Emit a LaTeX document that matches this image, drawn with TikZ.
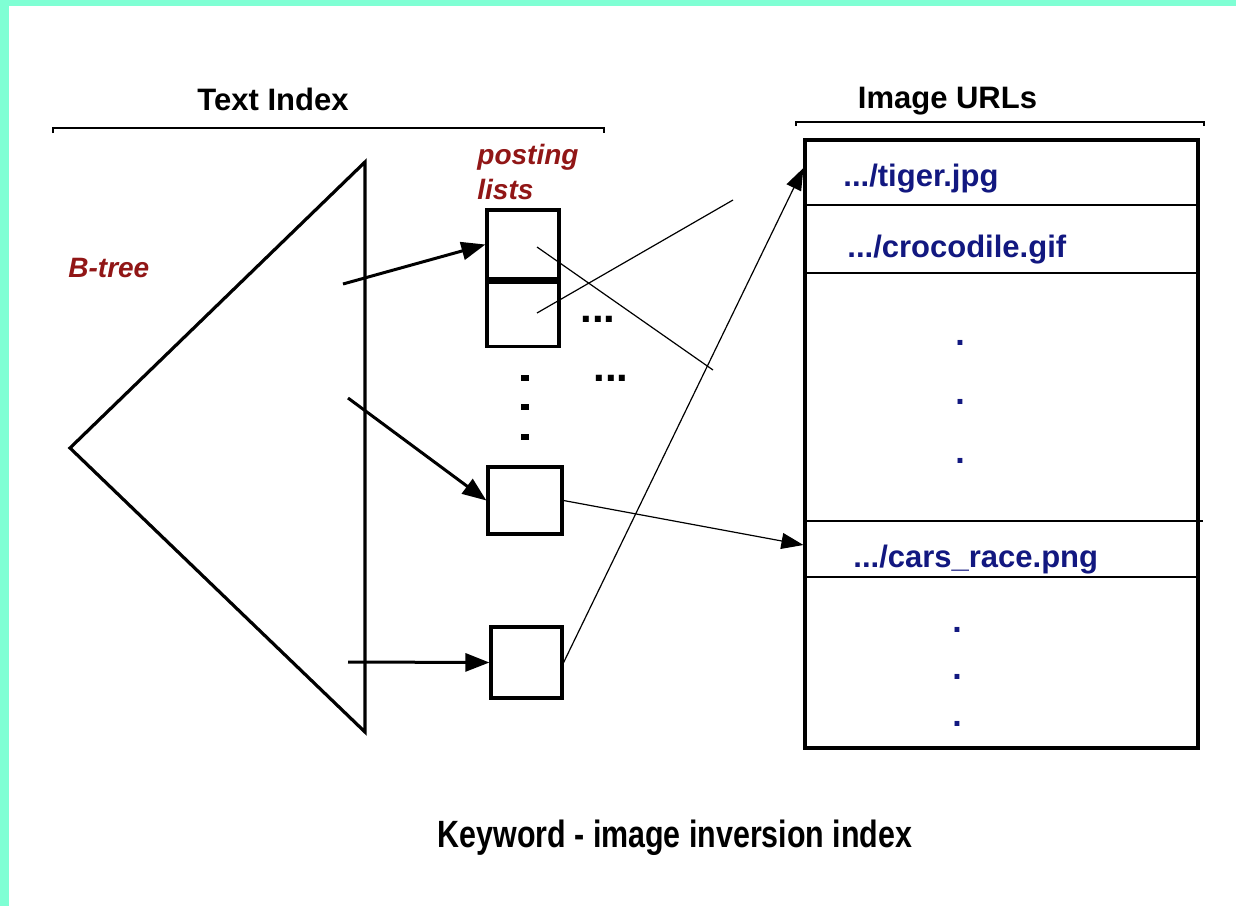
\documentclass[tikz,border=0pt]{standalone}
\usepackage{fontspec}
\usepackage{graphicx}
\setmainfont{Liberation Sans}
\usetikzlibrary{arrows.meta}
\definecolor{aqua}{RGB}{127,255,212}
\definecolor{treered}{RGB}{145,22,22}
\definecolor{urlblue}{RGB}{18,24,128}
\tikzset{
  plbox/.style={draw, line width=1.6pt, inner sep=0pt},
  heavy/.style={line width=1.6pt},
  bigarrow/.style={line width=1.5pt, -{Triangle[length=12pt,width=9pt]}},
  thinarrow/.style={line width=0.6pt, -{Triangle[length=11pt,width=8pt]}},
  pointer/.style={line width=0.6pt},
  rowrule/.style={line width=0.75pt},
  bracket/.style={line width=1pt},
  heading/.style={font=\fontsize{15.5}{18}\selectfont\bfseries, inner sep=0pt},
  redlabel/.style={text=treered, font=\fontsize{14}{17.5}\selectfont\bfseries\itshape, inner sep=0pt},
  urltext/.style={text=urlblue, font=\fontsize{15.5}{18}\selectfont\bfseries, anchor=base west, inner sep=0pt},
  dots/.style={font=\fontsize{21}{21}\selectfont\bfseries, inner sep=0pt},
  bluedots/.style={text=urlblue, align=center, inner sep=0pt},
}
\begin{document}
\begin{tikzpicture}[x=0.5pt, y=-0.5pt]
    %\draw[lightgray] (0,0) grid[step=100] (1236,906);
    \fill[white] (0,0) rectangle (1236,906);
    \useasboundingbox (0,0) rectangle (1236,906);
    \fill[aqua] (0,0) rectangle (1236,6);
    \fill[aqua] (0,0) rectangle (9,906);

    % text index
    \node[heading, anchor=base] (textidx) at (273,110) {Text Index};
    \draw[bracket] (53,133) -- (53,128) -- (604,128) -- (604,133);
    \draw[heavy] (365,162) -- (70,448) -- (365,732) -- cycle;
    \node[redlabel, anchor=base west] (btree) at (68,277) {B-tree};
    \node[redlabel, align=left, anchor=north west] (posting) at (477,144) {posting\\lists};

    \node[plbox, minimum width=36pt, minimum height=34.5pt] (pl1) at (523,244.5) {};
    \node[plbox, minimum width=36pt, minimum height=32pt, anchor=north] (pl2) at (pl1.south) {};
    \node[plbox, minimum width=37pt, minimum height=33.5pt] (pl3) at (525,500.5) {};
    \node[plbox, minimum width=35.5pt, minimum height=35.5pt] (pl4) at (526.5,662.5) {};

    \node[dots] (more1) at (598,319) {...};
    \node[dots] (more2) at (611,378) {...};
    \foreach \y in {378,407,437}
        \fill (521,\y-3) rectangle +(8,6);

    \coordinate (k1) at (343,284);
    \coordinate (k2) at (348,398);
    \coordinate (k3) at (348,662);
    \draw[bigarrow] (k1) -- (pl1.west);
    \draw[bigarrow] (k2) -- (pl3.west);
    \draw[bigarrow] (k3) -- (pl4.west);

    \coordinate (p1) at (537,247);
    \coordinate (p1e) at (713,370);
    \coordinate (p2) at (537,313);
    \coordinate (p2e) at (733,200);
    \draw[pointer] (p1) -- (p1e);
    \draw[pointer] (p2) -- (p2e);

    % image urls
    \node[heading, anchor=base] (imgurl) at (947.5,108) {Image URLs};
    \draw[bracket] (796,126) -- (796,122) -- (1204,122) -- (1204,126);
    \node[draw, line width=1.6pt, minimum width=196.5pt, minimum height=304pt, inner sep=0pt] (urls) at (1001.5,444) {};
    \draw[rowrule] (urls.west |- 0,205) -- (urls.east |- 0,205);
    \draw[rowrule] (urls.west |- 0,273) -- (urls.east |- 0,273);
    \draw[rowrule] (urls.west |- 0,521) -- (1203,521);
    \draw[rowrule] (urls.west |- 0,577) -- (urls.east |- 0,577);

    \node[urltext] (tiger) at (843,186) {.../tiger.jpg};
    \node[urltext] (croc) at (847,257) {.../crocodile.gif};
    \node[urltext] (cars) at (853,567) {.../cars\_race.png};
    \node[bluedots, font=\fontsize{17}{29.5}\selectfont\bfseries] (bdots1) at (960,402) {.\\.\\.};
    \node[bluedots, font=\fontsize{17}{23.5}\selectfont\bfseries] (bdots2) at (957,677) {.\\.\\.};

    \coordinate (tigerin) at (urls.west |- 0,168);
    \coordinate (carsin) at (urls.west |- 0,545);
    \draw[thinarrow] (pl3.east) -- (carsin);
    \draw[thinarrow] (pl4.east) -- (tigerin);

    \node[anchor=base, font=\fontsize{19}{22}\selectfont\bfseries, inner sep=0pt] (caption) at (675,847) {\scalebox{0.8}[1]{Keyword - image inversion index}};
\end{tikzpicture}
\end{document}
